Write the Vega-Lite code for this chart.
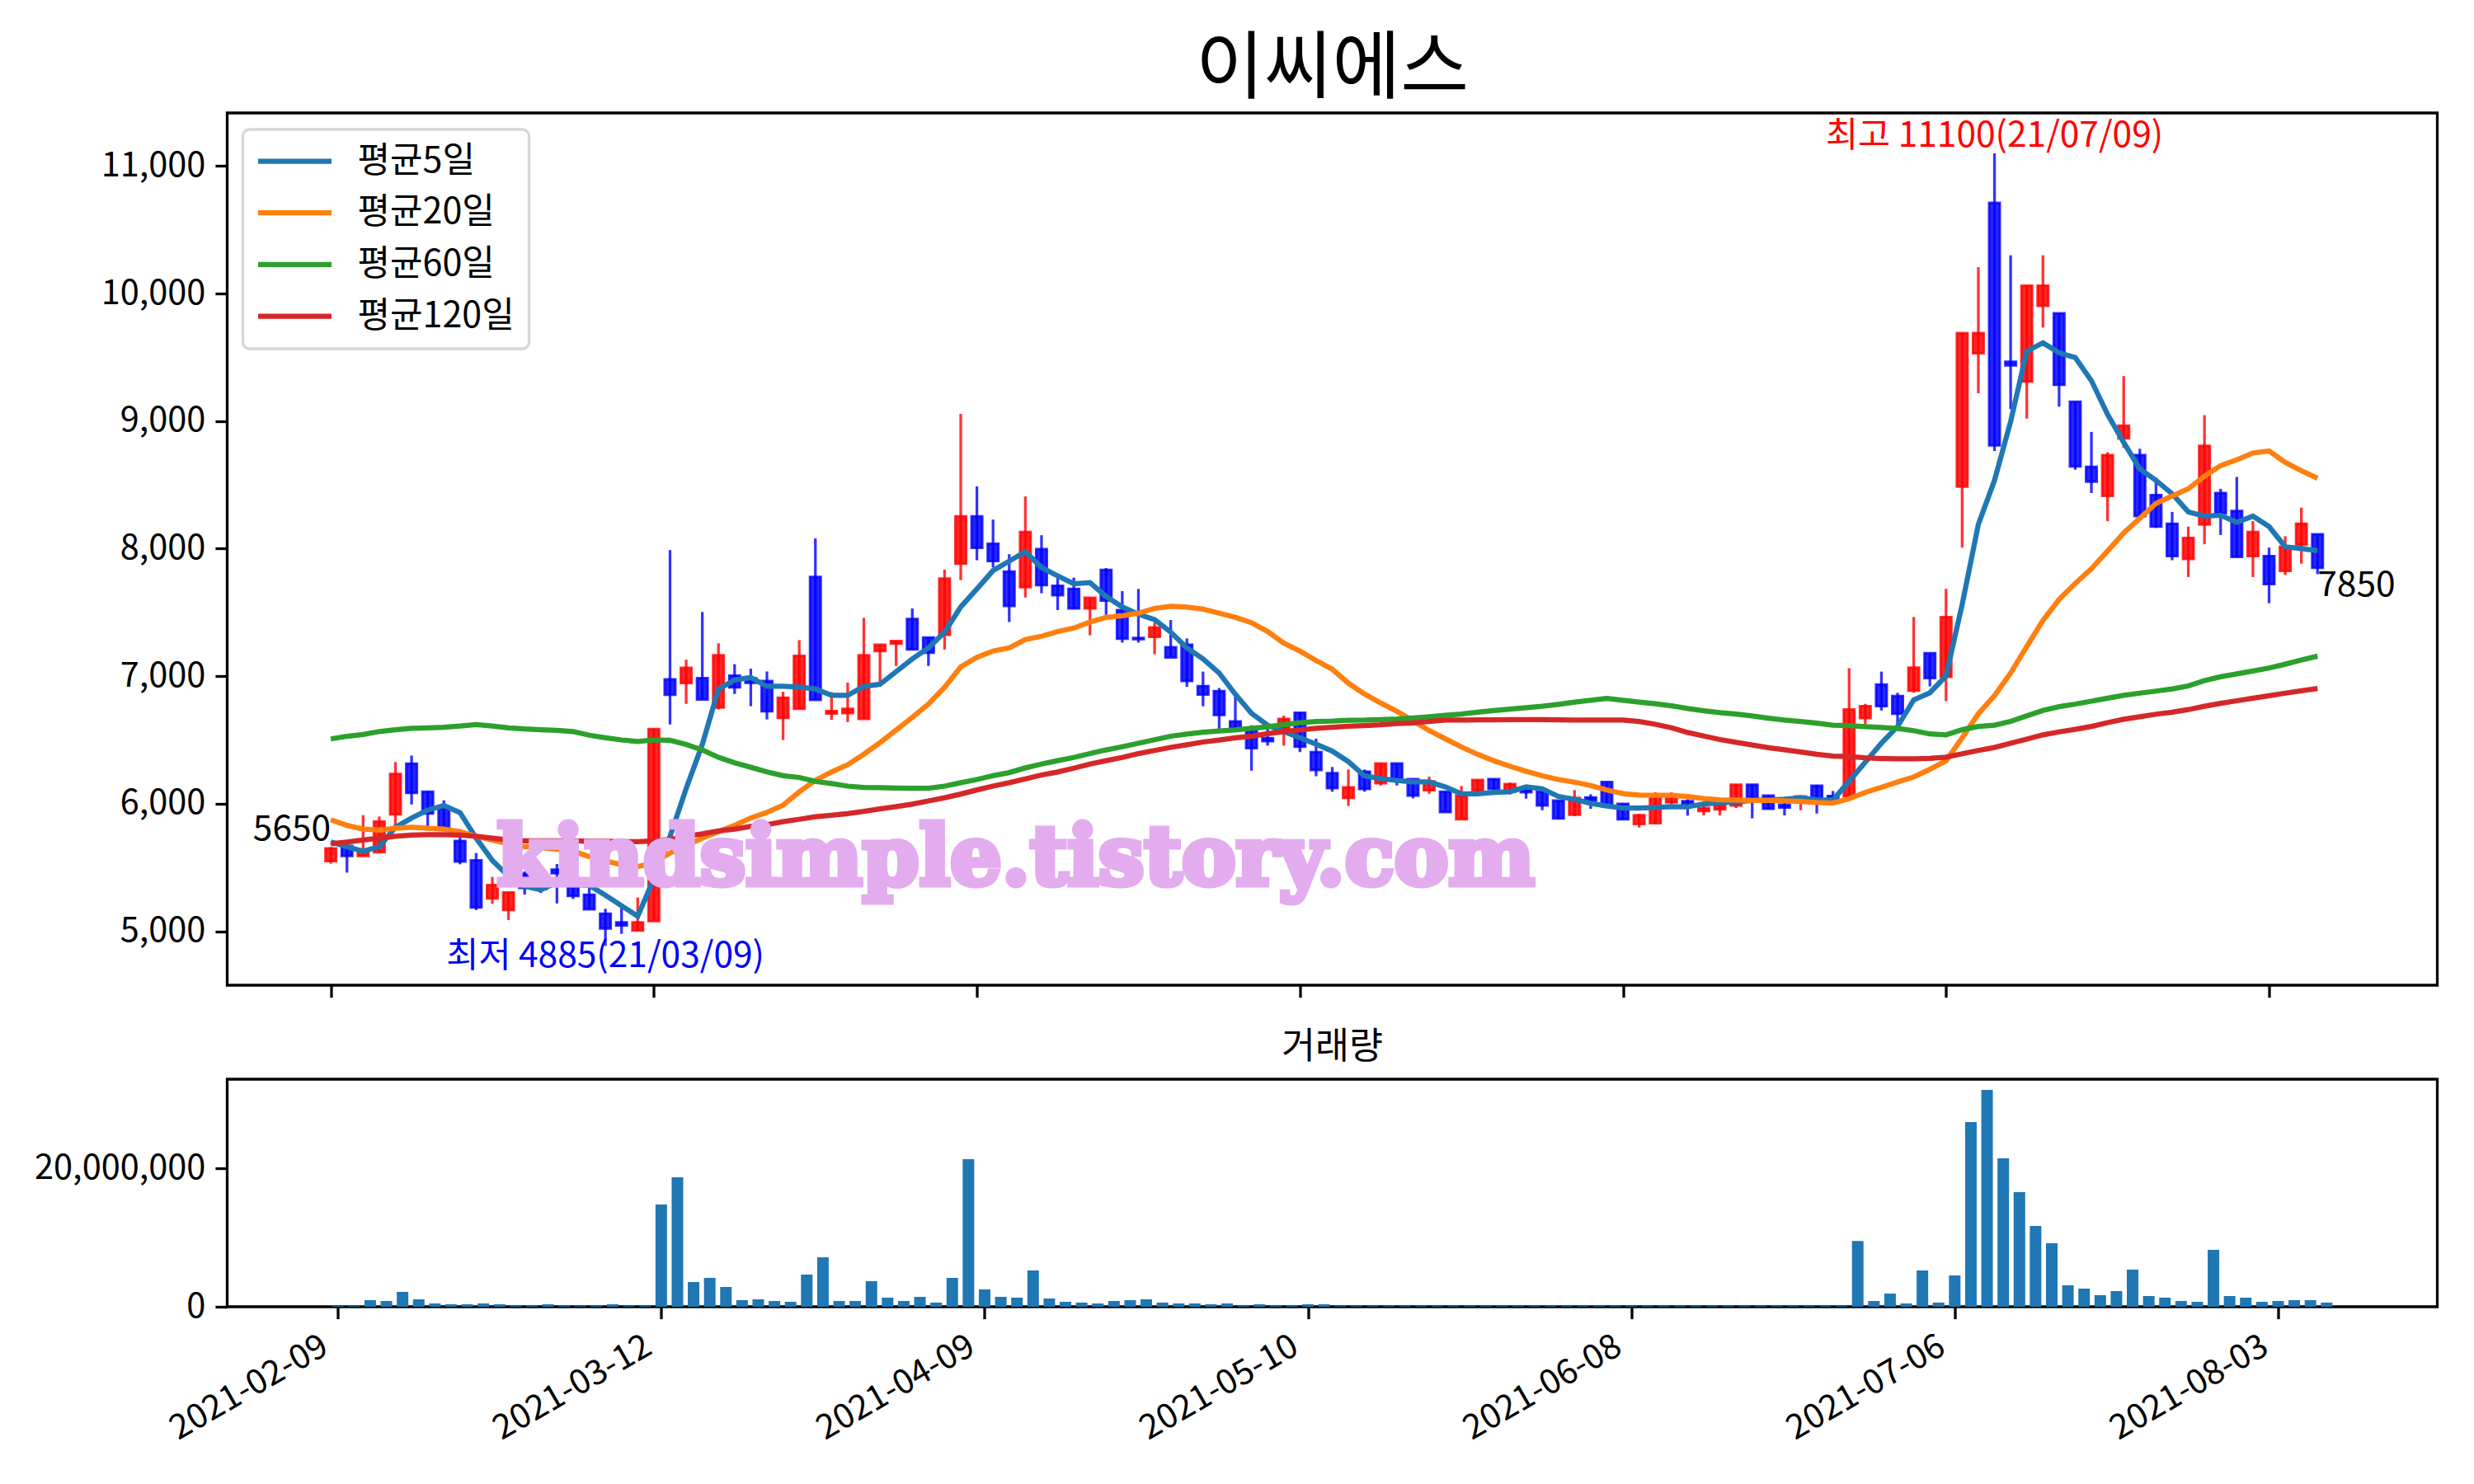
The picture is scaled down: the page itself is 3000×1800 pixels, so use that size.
{"$schema":"https://vega.github.io/schema/vega-lite/v6.json","background":"white","padding":{"left":39.5,"top":38,"right":40,"bottom":10},"bounds":"flush","spacing":114,
"config":{"view":{"stroke":"black","strokeWidth":3.3},"font":"Noto Sans CJK KR","axis":{"grid":false,"domain":false,"tickColor":"black","tickWidth":3.3,"tickSize":14.6,"labelColor":"black","labelFontSize":41.5,"labelFont":"Noto Sans CJK KR","labelPadding":12,"labelLimit":600,"title":null},"legend":{"strokeWidth":3.3},"text":{"font":"Noto Sans CJK KR","fontSize":42.5}},
"datasets":{"d":[
{"i":0,"o":5550,"h":5660,"l":5530,"c":5650,"v":100000,"평균5일":5700,"평균20일":5874,"평균60일":6508,"평균120일":5686},
{"i":1,"o":5670,"h":5690,"l":5460,"c":5590,"v":100000,"평균5일":5663,"평균20일":5830,"평균60일":6529,"평균120일":5700},
{"i":2,"o":5590,"h":5910,"l":5590,"c":5640,"v":950000,"평균5일":5628,"평균20일":5801,"평균60일":6543,"평균120일":5715},
{"i":3,"o":5620,"h":5900,"l":5620,"c":5860,"v":830000,"평균5일":5663,"평균20일":5793,"평균60일":6566,"평균120일":5730},
{"i":4,"o":5917,"h":6326,"l":5815,"c":6234,"v":2140000,"평균5일":5815,"평균20일":5807,"평균60일":6580,"평균120일":5744},
{"i":5,"o":6315,"h":6378,"l":5994,"c":6085,"v":1070000,"평균5일":5888,"평균20일":5816,"평균60일":6592,"평균120일":5755},
{"i":6,"o":6095,"h":6100,"l":5825,"c":5923,"v":480000,"평균5일":5950,"평균20일":5807,"평균60일":6595,"평균120일":5758},
{"i":7,"o":5960,"h":6027,"l":5815,"c":5815,"v":360000,"평균5일":5986,"평균20일":5801,"평균60일":6600,"평균120일":5758},
{"i":8,"o":5709,"h":5800,"l":5525,"c":5547,"v":360000,"평균5일":5930,"평균20일":5781,"평균60일":6609,"평균120일":5755},
{"i":9,"o":5556,"h":5613,"l":5166,"c":5186,"v":480000,"평균5일":5730,"평균20일":5744,"평균60일":6621,"평균120일":5744},
{"i":10,"o":5258,"h":5426,"l":5215,"c":5362,"v":360000,"평균5일":5555,"평균20일":5715,"평균60일":6609,"평균120일":5730},
{"i":11,"o":5167,"h":5305,"l":5088,"c":5305,"v":120000,"평균5일":5432,"평균20일":5686,"평균60일":6595,"평균120일":5715},
{"i":12,"o":5450,"h":5470,"l":5287,"c":5340,"v":120000,"평균5일":5354,"평균20일":5663,"평균60일":6586,"평균120일":5709},
{"i":13,"o":5340,"h":5370,"l":5300,"c":5330,"v":360000,"평균5일":5325,"평균20일":5657,"평균60일":6580,"평균120일":5709},
{"i":14,"o":5484,"h":5527,"l":5218,"c":5455,"v":120000,"평균5일":5383,"평균20일":5643,"평균60일":6575,"평균120일":5709},
{"i":15,"o":5382,"h":5382,"l":5253,"c":5276,"v":100000,"평균5일":5368,"평균20일":5628,"평균60일":6566,"평균120일":5709},
{"i":16,"o":5287,"h":5368,"l":5172,"c":5172,"v":120000,"평균5일":5360,"평균20일":5585,"평균60일":6537,"평균120일":5706},
{"i":17,"o":5137,"h":5177,"l":4885,"c":5022,"v":360000,"평균5일":5282,"평균20일":5551,"평균60일":6517,"평균120일":5706},
{"i":18,"o":5070,"h":5180,"l":4980,"c":5045,"v":100000,"평균5일":5200,"평균20일":5522,"평균60일":6500,"평균120일":5703},
{"i":19,"o":5005,"h":5265,"l":5005,"c":5070,"v":120000,"평균5일":5117,"평균20일":5507,"평균60일":6488,"평균120일":5703},
{"i":20,"o":5080,"h":6585,"l":5080,"c":6585,"v":14760000,"평균5일":5412,"평균20일":5536,"평균60일":6500,"평균120일":5709},
{"i":21,"o":6975,"h":7989,"l":6621,"c":6854,"v":18700000,"평균5일":5743,"평균20일":5614,"평균60일":6497,"평균120일":5720},
{"i":22,"o":6946,"h":7129,"l":6783,"c":7065,"v":3570000,"평균5일":6119,"평균20일":5672,"평균60일":6465,"평균120일":5744},
{"i":23,"o":6985,"h":7503,"l":6817,"c":6817,"v":4170000,"평균5일":6465,"평균20일":5730,"평균60일":6422,"평균120일":5764},
{"i":24,"o":6754,"h":7258,"l":6739,"c":7164,"v":2860000,"평균5일":6898,"평균20일":5781,"평균60일":6364,"평균120일":5787},
{"i":25,"o":7005,"h":7094,"l":6860,"c":6912,"v":950000,"평균5일":6970,"평균20일":5830,"평균60일":6321,"평균120일":5801},
{"i":26,"o":6985,"h":7059,"l":6765,"c":6947,"v":1070000,"평균5일":6990,"평균20일":5888,"평균60일":6286,"평균120일":5822},
{"i":27,"o":6962,"h":7037,"l":6661,"c":6725,"v":830000,"평균5일":6921,"평균20일":5932,"평균60일":6249,"평균120일":5836},
{"i":28,"o":6673,"h":6878,"l":6500,"c":6832,"v":710000,"평균5일":6921,"평균20일":5989,"평균60일":6220,"평균120일":5859},
{"i":29,"o":6744,"h":7283,"l":6744,"c":7160,"v":4640000,"평균5일":6915,"평균20일":6093,"평균60일":6206,"평균120일":5878},
{"i":30,"o":7778,"h":8080,"l":6813,"c":6813,"v":7140000,"평균5일":6900,"평균20일":6183,"평균60일":6175,"평균120일":5898},
{"i":31,"o":6707,"h":6875,"l":6657,"c":6727,"v":830000,"평균5일":6850,"평균20일":6249,"평균60일":6158,"평균120일":5910},
{"i":32,"o":6710,"h":6950,"l":6640,"c":6744,"v":830000,"평균5일":6850,"평균20일":6306,"평균60일":6138,"평균120일":5923},
{"i":33,"o":6665,"h":7457,"l":6665,"c":7165,"v":3690000,"평균5일":6920,"평균20일":6388,"평균60일":6128,"평균120일":5940},
{"i":34,"o":7197,"h":7246,"l":6950,"c":7246,"v":1310000,"평균5일":6937,"평균20일":6479,"평균60일":6126,"평균120일":5960},
{"i":35,"o":7254,"h":7276,"l":7080,"c":7276,"v":830000,"평균5일":7036,"평균20일":6578,"평균60일":6123,"평균120일":5977},
{"i":36,"o":7449,"h":7531,"l":7204,"c":7209,"v":1430000,"평균5일":7135,"평균20일":6677,"평균60일":6121,"평균120일":5997},
{"i":37,"o":7303,"h":7303,"l":7080,"c":7184,"v":600000,"평균5일":7222,"평균20일":6781,"평균60일":6121,"평균120일":6022},
{"i":38,"o":7325,"h":7835,"l":7209,"c":7766,"v":4170000,"평균5일":7345,"평균20일":6912,"평균60일":6138,"평균120일":6047},
{"i":39,"o":7882,"h":9057,"l":7753,"c":8253,"v":21300000,"평균5일":7543,"평균20일":7073,"평균60일":6165,"평균120일":6076},
{"i":40,"o":8253,"h":8488,"l":7909,"c":8006,"v":2500000,"평균5일":7684,"평균20일":7147,"평균60일":6190,"평균120일":6108},
{"i":41,"o":8038,"h":8228,"l":7853,"c":7902,"v":1430000,"평균5일":7828,"평균20일":7197,"평균60일":6220,"평균120일":6138},
{"i":42,"o":7820,"h":7956,"l":7425,"c":7551,"v":1310000,"평균5일":7902,"평균20일":7222,"평균60일":6244,"평균120일":6165},
{"i":43,"o":7697,"h":8409,"l":7617,"c":8130,"v":5240000,"평균5일":7976,"평균20일":7288,"평균60일":6281,"평균120일":6195},
{"i":44,"o":7996,"h":8105,"l":7650,"c":7714,"v":1190000,"평균5일":7852,"평균20일":7313,"평균60일":6311,"평균120일":6225},
{"i":45,"o":7709,"h":7780,"l":7518,"c":7635,"v":710000,"평균5일":7786,"평균20일":7350,"평균60일":6338,"평균120일":6249},
{"i":46,"o":7684,"h":7773,"l":7526,"c":7531,"v":600000,"평균5일":7724,"평균20일":7377,"평균60일":6363,"평균120일":6279},
{"i":47,"o":7531,"h":7615,"l":7320,"c":7615,"v":480000,"평균5일":7734,"평균20일":7424,"평균60일":6393,"평균120일":6311},
{"i":48,"o":7833,"h":7848,"l":7481,"c":7593,"v":830000,"평균5일":7625,"평균20일":7461,"평균60일":6422,"평균120일":6338},
{"i":49,"o":7518,"h":7667,"l":7263,"c":7293,"v":950000,"평균5일":7543,"평균20일":7474,"평균60일":6447,"평균120일":6363},
{"i":50,"o":7300,"h":7684,"l":7263,"c":7290,"v":1070000,"평균5일":7486,"평균20일":7494,"평균60일":6474,"평균120일":6393},
{"i":51,"o":7308,"h":7420,"l":7172,"c":7382,"v":600000,"평균5일":7444,"평균20일":7531,"평균60일":6502,"평균120일":6418},
{"i":52,"o":7227,"h":7440,"l":7147,"c":7147,"v":480000,"평균5일":7345,"평균20일":7548,"평균60일":6529,"평균120일":6442},
{"i":53,"o":7246,"h":7296,"l":6917,"c":6962,"v":480000,"평균5일":7222,"평균20일":7541,"평균60일":6546,"평균120일":6462},
{"i":54,"o":6922,"h":7036,"l":6764,"c":6855,"v":360000,"평균5일":7135,"평균20일":7526,"평균60일":6561,"평균120일":6484},
{"i":55,"o":6883,"h":6907,"l":6578,"c":6695,"v":480000,"평균5일":7024,"평균20일":7494,"평균60일":6571,"평균120일":6499},
{"i":56,"o":6645,"h":6838,"l":6578,"c":6590,"v":120000,"평균5일":6858,"평균20일":7461,"평균60일":6578,"평균120일":6517},
{"i":57,"o":6590,"h":6615,"l":6259,"c":6435,"v":360000,"평균5일":6709,"평균20일":7419,"평균60일":6591,"평균120일":6529},
{"i":58,"o":6515,"h":6590,"l":6455,"c":6490,"v":120000,"평균5일":6615,"평균20일":7350,"평균60일":6603,"평균120일":6549},
{"i":59,"o":6590,"h":6690,"l":6455,"c":6665,"v":120000,"평균5일":6566,"평균20일":7259,"평균60일":6620,"평균120일":6566},
{"i":60,"o":6714,"h":6719,"l":6405,"c":6447,"v":360000,"평균5일":6517,"평균20일":7197,"평균60일":6635,"평균120일":6578},
{"i":61,"o":6405,"h":6510,"l":6215,"c":6264,"v":360000,"평균5일":6467,"평균20일":7123,"평균60일":6645,"평균120일":6591},
{"i":62,"o":6240,"h":6288,"l":6094,"c":6122,"v":100000,"평균5일":6412,"평균20일":7055,"평균60일":6648,"평균120일":6600},
{"i":63,"o":6046,"h":6268,"l":5982,"c":6128,"v":100000,"평균5일":6330,"평균20일":6945,"평균60일":6655,"평균120일":6607},
{"i":64,"o":6251,"h":6268,"l":6094,"c":6115,"v":100000,"평균5일":6219,"평균20일":6860,"평균60일":6656,"평균120일":6613},
{"i":65,"o":6161,"h":6316,"l":6143,"c":6316,"v":100000,"평균5일":6197,"평균20일":6790,"평균60일":6660,"평균120일":6619},
{"i":66,"o":6316,"h":6316,"l":6143,"c":6197,"v":100000,"평균5일":6182,"평균20일":6725,"평균60일":6664,"평균120일":6628},
{"i":67,"o":6193,"h":6197,"l":6042,"c":6063,"v":100000,"평균5일":6171,"평균20일":6650,"평균60일":6673,"평균120일":6634},
{"i":68,"o":6105,"h":6212,"l":6078,"c":6175,"v":100000,"평균5일":6171,"평균20일":6574,"평균60일":6682,"평균120일":6645},
{"i":69,"o":6094,"h":6094,"l":5934,"c":5934,"v":100000,"평균5일":6132,"평균20일":6509,"평균60일":6693,"평균120일":6656},
{"i":70,"o":5878,"h":6139,"l":5878,"c":6063,"v":100000,"평균5일":6078,"평균20일":6445,"평균60일":6703,"평균120일":6656},
{"i":71,"o":6105,"h":6186,"l":6090,"c":6186,"v":100000,"평균5일":6078,"평균20일":6387,"평균60일":6718,"평균120일":6658},
{"i":72,"o":6193,"h":6197,"l":6110,"c":6117,"v":100000,"평균5일":6089,"평균20일":6337,"평균60일":6731,"평균120일":6658},
{"i":73,"o":6094,"h":6165,"l":6072,"c":6154,"v":100000,"평균5일":6094,"평균20일":6294,"평균60일":6742,"평균120일":6660},
{"i":74,"o":6110,"h":6143,"l":6040,"c":6090,"v":100000,"평균5일":6132,"평균20일":6255,"평균60일":6753,"평균120일":6660},
{"i":75,"o":6094,"h":6110,"l":5949,"c":5986,"v":100000,"평균5일":6117,"평균20일":6219,"평균60일":6764,"평균120일":6660},
{"i":76,"o":6025,"h":6025,"l":5878,"c":5885,"v":100000,"평균5일":6057,"평균20일":6190,"평균60일":6779,"평균120일":6658},
{"i":77,"o":5913,"h":6107,"l":5902,"c":6046,"v":100000,"평균5일":6035,"평균20일":6169,"평균60일":6796,"평균120일":6656},
{"i":78,"o":6050,"h":6074,"l":5960,"c":6025,"v":100000,"평균5일":6003,"평균20일":6143,"평균60일":6811,"평균120일":6656},
{"i":79,"o":6170,"h":6170,"l":5982,"c":5982,"v":100000,"평균5일":5982,"평균20일":6107,"평균60일":6826,"평균120일":6656},
{"i":80,"o":5999,"h":6003,"l":5874,"c":5878,"v":100000,"평균5일":5966,"평균20일":6079,"평균60일":6811,"평균120일":6656},
{"i":81,"o":5841,"h":5921,"l":5813,"c":5910,"v":100000,"평균5일":5966,"평균20일":6068,"평균60일":6796,"평균120일":6645},
{"i":82,"o":5848,"h":6090,"l":5840,"c":6056,"v":100000,"평균5일":5971,"평균20일":6066,"평균60일":6783,"평균120일":6623},
{"i":83,"o":6010,"h":6090,"l":5999,"c":6052,"v":100000,"평균5일":5977,"평균20일":6066,"평균60일":6768,"평균120일":6596},
{"i":84,"o":6020,"h":6035,"l":5906,"c":5982,"v":100000,"평균5일":5975,"평균20일":6057,"평균60일":6747,"평균120일":6559},
{"i":85,"o":5943,"h":6014,"l":5908,"c":5966,"v":100000,"평균5일":5999,"평균20일":6040,"평균60일":6729,"평균120일":6531},
{"i":86,"o":5956,"h":6020,"l":5908,"c":5992,"v":100000,"평균5일":6007,"평균20일":6031,"평균60일":6714,"평균120일":6503},
{"i":87,"o":5986,"h":6150,"l":5966,"c":6150,"v":100000,"평균5일":6014,"평균20일":6029,"평균60일":6703,"평균120일":6481},
{"i":88,"o":6150,"h":6150,"l":5885,"c":6050,"v":100000,"평균5일":6025,"평균20일":6025,"평균60일":6688,"평균120일":6460},
{"i":89,"o":6063,"h":6068,"l":5955,"c":5960,"v":100000,"평균5일":6029,"평균20일":6025,"평균60일":6671,"평균120일":6440},
{"i":90,"o":5992,"h":6035,"l":5908,"c":5970,"v":100000,"평균5일":6035,"평균20일":6022,"평균60일":6656,"평균120일":6423},
{"i":91,"o":6025,"h":6061,"l":5949,"c":6057,"v":100000,"평균5일":6046,"평균20일":6018,"평균60일":6645,"평균120일":6406},
{"i":92,"o":6141,"h":6148,"l":5923,"c":6025,"v":100000,"평균5일":6031,"평균20일":6009,"평균60일":6632,"평균120일":6388},
{"i":93,"o":6061,"h":6100,"l":6025,"c":6029,"v":100000,"평균5일":6029,"평균20일":6005,"평균60일":6615,"평균120일":6373},
{"i":94,"o":6057,"h":7063,"l":6057,"c":6740,"v":9500000,"평균5일":6176,"평균20일":6040,"평균60일":6612,"평균120일":6370},
{"i":95,"o":6672,"h":6783,"l":6610,"c":6765,"v":830000,"평균5일":6326,"평균20일":6089,"평균60일":6605,"평균120일":6360},
{"i":96,"o":6935,"h":7036,"l":6731,"c":6765,"v":1900000,"평균5일":6475,"평균20일":6128,"평균60일":6598,"평균120일":6354},
{"i":97,"o":6844,"h":6870,"l":6606,"c":6705,"v":480000,"평균5일":6606,"평균20일":6170,"평균60일":6590,"평균120일":6352},
{"i":98,"o":6886,"h":7464,"l":6870,"c":7068,"v":5240000,"평균5일":6814,"평균20일":6210,"평균60일":6573,"평균120일":6352},
{"i":99,"o":7180,"h":7180,"l":6920,"c":6985,"v":600000,"평균5일":6870,"평균20일":6270,"평균60일":6547,"평균120일":6355},
{"i":100,"o":6995,"h":7685,"l":6804,"c":7464,"v":4520000,"평균5일":7002,"평균20일":6336,"평균60일":6540,"평균120일":6365},
{"i":101,"o":8486,"h":9690,"l":8008,"c":9690,"v":26670000,"평균5일":7563,"평균20일":6517,"평균60일":6580,"평균120일":6392},
{"i":102,"o":9531,"h":10207,"l":9218,"c":9690,"v":31300000,"평균5일":8189,"평균20일":6705,"평균60일":6606,"평균120일":6418},
{"i":103,"o":10712,"h":11100,"l":8766,"c":8809,"v":21430000,"평균5일":8535,"평균20일":6847,"평균60일":6616,"평균120일":6441},
{"i":104,"o":9465,"h":10300,"l":9093,"c":9436,"v":16550000,"평균5일":8997,"평균20일":7025,"평균60일":6646,"평균120일":6474},
{"i":105,"o":9310,"h":10062,"l":9020,"c":10062,"v":11670000,"평균5일":9548,"평균20일":7233,"평균60일":6689,"평균120일":6507},
{"i":106,"o":9904,"h":10300,"l":9733,"c":10062,"v":9170000,"평균5일":9614,"평균20일":7437,"평균60일":6731,"평균120일":6540},
{"i":107,"o":9845,"h":9845,"l":9113,"c":9284,"v":3100000,"평균5일":9535,"평균20일":7602,"평균60일":6761,"평균120일":6563},
{"i":108,"o":9152,"h":9152,"l":8618,"c":8644,"v":2620000,"평균5일":9498,"평균20일":7727,"평균60일":6781,"평균120일":6583},
{"i":109,"o":8641,"h":8915,"l":8436,"c":8525,"v":1670000,"평균5일":9317,"평균20일":7843,"평균60일":6804,"평균120일":6606},
{"i":110,"o":8413,"h":8756,"l":8215,"c":8733,"v":2260000,"평균5일":9053,"평균20일":7981,"평균60일":6827,"평균120일":6636},
{"i":111,"o":8865,"h":9353,"l":8789,"c":8964,"v":5360000,"평균5일":8832,"평균20일":8123,"평균60일":6850,"평균120일":6662},
{"i":112,"o":8733,"h":8783,"l":8248,"c":8255,"v":1550000,"평균5일":8624,"평균20일":8239,"평균60일":6867,"평균120일":6682},
{"i":113,"o":8420,"h":8558,"l":8163,"c":8173,"v":1310000,"평균5일":8535,"평균20일":8354,"평균60일":6883,"평균120일":6702},
{"i":114,"o":8196,"h":8288,"l":7909,"c":7942,"v":830000,"평균5일":8430,"평균20일":8413,"평균60일":6900,"평균120일":6718},
{"i":115,"o":7919,"h":8173,"l":7777,"c":8084,"v":710000,"평균5일":8288,"평균20일":8469,"평균60일":6923,"평균120일":6738},
{"i":116,"o":8189,"h":9047,"l":8034,"c":8806,"v":8210000,"평균5일":8255,"평균20일":8568,"평균60일":6966,"평균120일":6764},
{"i":117,"o":8436,"h":8469,"l":8107,"c":8278,"v":1550000,"평균5일":8262,"평균20일":8651,"평균60일":6995,"평균120일":6787},
{"i":118,"o":8295,"h":8562,"l":7935,"c":7935,"v":1310000,"평균5일":8206,"평균20일":8697,"평균60일":7018,"평균120일":6807},
{"i":119,"o":7942,"h":8216,"l":7777,"c":8130,"v":710000,"평균5일":8255,"평균20일":8750,"평균60일":7041,"평균120일":6827},
{"i":120,"o":7942,"h":8008,"l":7572,"c":7721,"v":830000,"평균5일":8173,"평균20일":8766,"평균60일":7064,"평균120일":6847},
{"i":121,"o":7826,"h":8097,"l":7793,"c":8014,"v":950000,"평균5일":8014,"평균20일":8677,"평균60일":7094,"평균120일":6867},
{"i":122,"o":8031,"h":8321,"l":7882,"c":8196,"v":950000,"평균5일":8000,"평균20일":8611,"평균60일":7127,"평균120일":6886},
{"i":123,"o":8113,"h":8113,"l":7800,"c":7850,"v":600000,"평균5일":7985,"평균20일":8552,"평균60일":7157,"평균120일":6903}
]},
"vconcat":[
{"width":2680,"height":1058,"title":{"text":"이씨에스","font":"Noto Sans CJK KR","fontSize":90,"fontWeight":"normal","color":"black","offset":6,"limit":0},
"data":{"name":"d"},
"encoding":{"x":{"field":"i","type":"quantitative","scale":{"domain":[-6.16,130.16],"nice":false,"zero":false},"axis":{"values":[0,20,40,60,80,100,120],"labels":false}}},
"layer":[
{"mark":{"type":"rule","strokeWidth":3.3,"opacity":0.8},"encoding":{"y":{"field":"l","type":"quantitative","scale":{"domain":[4577,11416],"nice":false,"zero":false},"axis":{"values":[5000,6000,7000,8000,9000,10000,11000],"format":",d"}},"y2":{"field":"h"},"color":{"condition":{"test":"datum.c>=datum.o","value":"red"},"value":"blue"}}},
{"mark":{"type":"bar","orient":"vertical","size":13,"fillOpacity":0.85,"strokeOpacity":0.8,"strokeWidth":3},"encoding":{"y":{"field":"o","type":"quantitative"},"y2":{"field":"c"},"fill":{"condition":{"test":"datum.c>=datum.o","value":"red"},"value":"blue"},"stroke":{"condition":{"test":"datum.c>=datum.o","value":"red"},"value":"blue"}}},
{"transform":[{"fold":["평균5일","평균20일","평균60일","평균120일"],"as":["series","ma"]}],"mark":{"type":"line","strokeWidth":6.25},"encoding":{"y":{"field":"ma","type":"quantitative"},"color":{"field":"series","type":"nominal","scale":{"domain":["평균5일","평균20일","평균60일","평균120일"],"range":["#1f77b4","#ff7f0e","#2ca02c","#d62728"]},"legend":{"orient":"none","legendX":19,"legendY":20,"title":null,"symbolType":"M-3,0H3","symbolSize":880,"symbolStrokeWidth":6.25,"labelFontSize":43,"labelFont":"Noto Sans CJK KR","labelLimit":600,"fillColor":"white","strokeColor":"#d6d6d6","cornerRadius":8,"padding":17,"rowPadding":18.7,"symbolOffset":24.5,"labelOffset":54.5,"labelColor":"black"}}}},
{"data":{"values":[{"i":103,"p":11100,"t":"최고 11100(21/07/09)"}]},"mark":{"type":"text","color":"red","baseline":"alphabetic","align":"center","dy":-8},"encoding":{"x":{"field":"i","type":"quantitative"},"y":{"field":"p","type":"quantitative"},"text":{"field":"t"}}},
{"data":{"values":[{"i":17,"p":4885,"t":"최저 4885(21/03/09)"}]},"mark":{"type":"text","color":"blue","baseline":"top","align":"center","dy":-8},"encoding":{"x":{"field":"i","type":"quantitative"},"y":{"field":"p","type":"quantitative"},"text":{"field":"t"}}},
{"data":{"values":[{"i":0,"p":5650,"t":"5650"}]},"mark":{"type":"text","color":"black","baseline":"alphabetic","align":"right","dy":-10},"encoding":{"x":{"field":"i","type":"quantitative"},"y":{"field":"p","type":"quantitative"},"text":{"field":"t"}}},
{"data":{"values":[{"i":123,"p":7850,"t":"7850"}]},"mark":{"type":"text","color":"black","baseline":"top","align":"left"},"encoding":{"x":{"field":"i","type":"quantitative"},"y":{"field":"p","type":"quantitative"},"text":{"field":"t"}}},
{"data":{"values":[{"i":42.4,"p":5365,"t":"kindsimple.tistory.com"}]},"mark":{"type":"text","color":"#e3acee","stroke":"#e3acee","strokeWidth":7,"baseline":"alphabetic","align":"center","font":"DejaVu Serif","fontWeight":"bold","fontSize":98.5},"encoding":{"x":{"field":"i","type":"quantitative"},"y":{"field":"p","type":"quantitative"},"text":{"field":"t"}}}
]},
{"width":2680,"height":276,"title":{"text":"거래량","font":"Noto Sans CJK KR","fontSize":44.5,"fontWeight":"normal","color":"black","offset":16},
"data":{"name":"d"},
"mark":{"type":"bar","orient":"vertical","size":14,"color":"#1f77b4"},
"encoding":{"x":{"field":"i","type":"quantitative","scale":{"domain":[-6.59,129.59],"nice":false,"zero":false},"axis":{"values":[0,20,40,60,80,100,120],"labelExpr":"{'0':'2021-02-09','20':'2021-03-12','40':'2021-04-09','60':'2021-05-10','80':'2021-06-08','100':'2021-07-06','120':'2021-08-03'}[datum.value]","labelAngle":-30,"labelAlign":"right","labelBaseline":"top","labelOverlap":false,"labelOffset":-26}},"y":{"field":"v","type":"quantitative","scale":{"domain":[0,32860000],"nice":false},"axis":{"values":[0,20000000],"format":",d"}}}}
]}
